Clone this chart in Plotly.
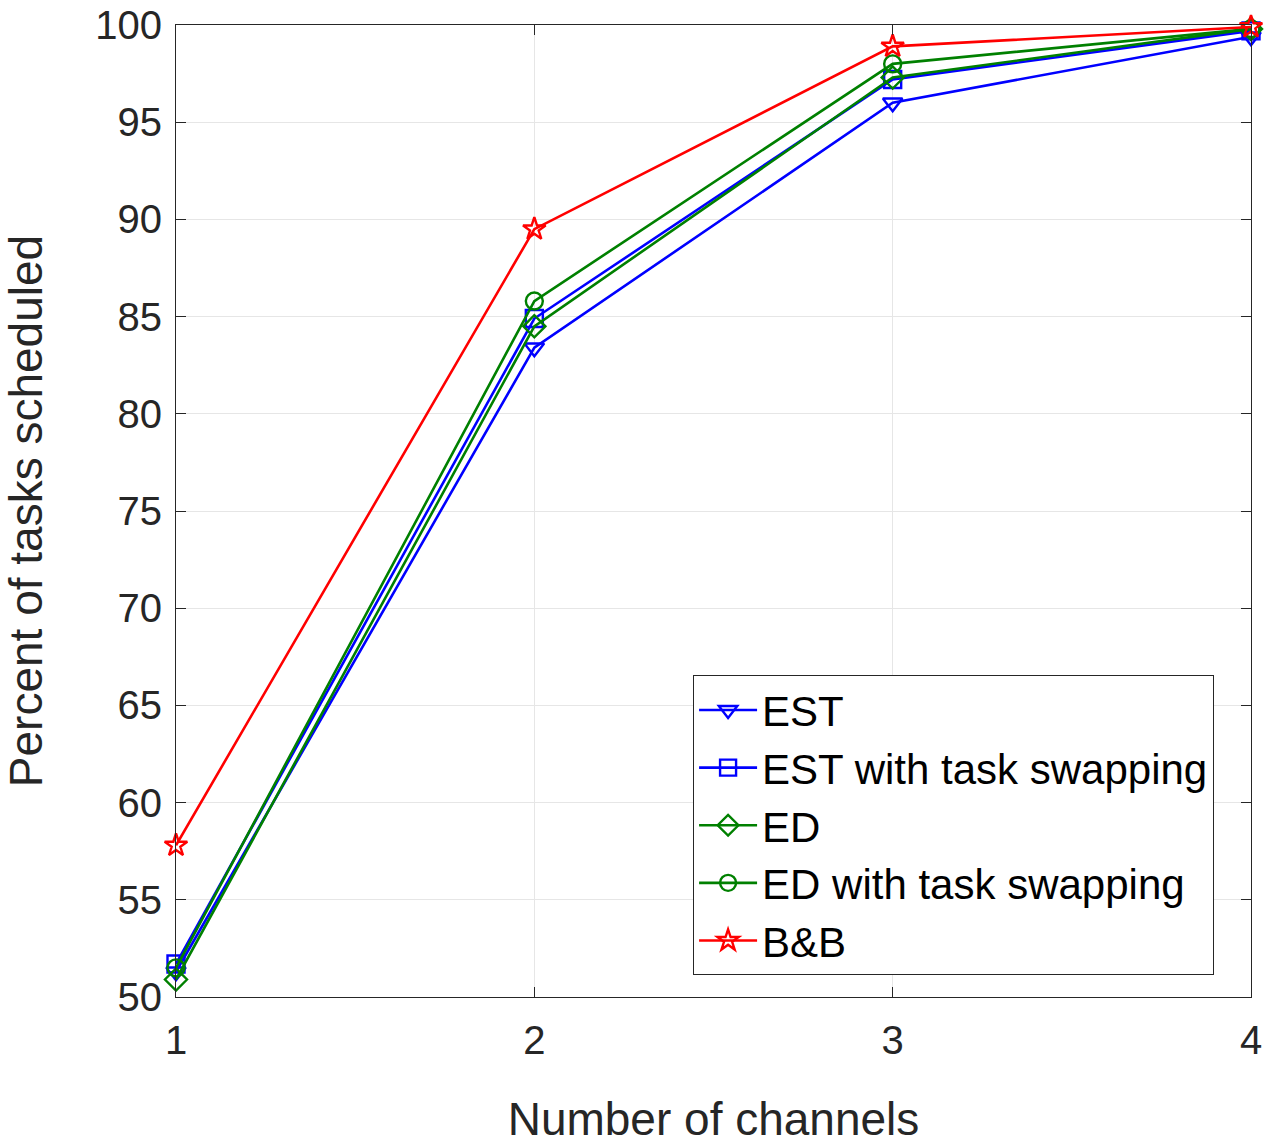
import plotly.graph_objects as go

channels = [1, 2, 3, 4]
est = [51.3, 83.4, 96.0, 99.4]
est_swap = [51.7, 84.9, 97.2, 99.7]
ed = [50.9, 84.5, 97.3, 99.8]
ed_swap = [51.5, 85.8, 98.0, 99.8]
bb = [57.8, 89.5, 98.9, 99.9]

series = [
    ("EST", est, "blue", "triangle-down-open"),
    ("EST with task swapping", est_swap, "blue", "square-open"),
    ("ED", ed, "green", "diamond-open"),
    ("ED with task swapping", ed_swap, "green", "circle-open"),
    ("B&B", bb, "red", "star-open"),
]
colors = {"blue": "#0000ff", "green": "#008000", "red": "#ff0000"}

fig = go.Figure()
for name, vals, c, sym in series:
    fig.add_trace(go.Scatter(
        x=channels, y=vals, name=name, mode="lines+markers",
        line=dict(color=colors[c], width=2.6),
        marker=dict(symbol=sym, size=17, color=colors[c], line=dict(width=2.4, color=colors[c])),
        cliponaxis=False,
    ))

font = "Liberation Sans, Arial, sans-serif"
fig.update_layout(
    width=1264, height=1145,
    margin=dict(l=176, r=13, t=25, b=148, autoexpand=False),
    paper_bgcolor="white", plot_bgcolor="white",
    font=dict(family=font, size=40, color="#262626"),
    showlegend=True,
    legend=dict(
        x=0.481, y=0.331, xanchor="left", yanchor="top",
        bgcolor="white", bordercolor="#262626", borderwidth=1,
        font=dict(size=42, color="#000000"),
        tracegroupgap=0, itemwidth=58,
    ),
    xaxis=dict(
        range=[1, 4], tickvals=channels, ticktext=[str(c) for c in channels],
        showgrid=True, gridcolor="#e6e6e6", gridwidth=1,
        showline=True, linecolor="#262626", linewidth=1, mirror="ticks",
        ticks="inside", ticklen=10, tickcolor="#262626", ticklabelstandoff=8,
        ticklabeloverflow="allow",
        zeroline=False, tickfont=dict(size=40), automargin=False,
        title=dict(text="Number of channels", font=dict(size=46), standoff=46),
    ),
    yaxis=dict(
        range=[50, 100], tickvals=list(range(50, 101, 5)),
        showgrid=True, gridcolor="#e6e6e6", gridwidth=1,
        showline=True, linecolor="#262626", linewidth=1, mirror="ticks",
        ticks="inside", ticklen=10, tickcolor="#262626", ticklabelstandoff=5,
        ticklabeloverflow="allow",
        zeroline=False, tickfont=dict(size=40), automargin=False,
        title=dict(text="Percent of tasks scheduled", font=dict(size=46), standoff=50),
    ),
)

fig.write_html(
    "out.html",
    config={"displayModeBar": False},
    post_script="document.body.style.margin='0';document.body.style.overflow='hidden';",
)
